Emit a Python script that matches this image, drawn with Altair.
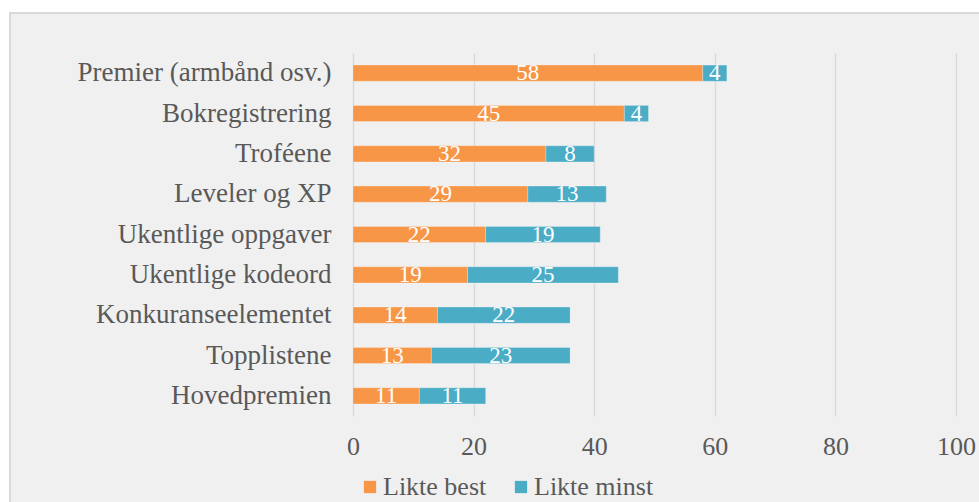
import altair as alt
import pandas as pd

# Survey: which game elements were liked best / least (percent of respondents)
categories = [
    "Premier (armbånd osv.)",
    "Bokregistrering",
    "Troféene",
    "Leveler og XP",
    "Ukentlige oppgaver",
    "Ukentlige kodeord",
    "Konkuranseelementet",
    "Topplistene",
    "Hovedpremien",
]
likte_best = [58, 45, 32, 29, 22, 19, 14, 13, 11]
likte_minst = [4, 4, 8, 13, 19, 25, 22, 23, 11]
series = ["Likte best", "Likte minst"]
colors = ["#F79646", "#4BACC6"]
x_ticks = [0, 20, 40, 60, 80, 100]

rows = []
for cat, b, m in zip(categories, likte_best, likte_minst):
    rows.append({"kategori": cat, "serie": series[0], "rekkefolge": 0, "verdi": b})
    rows.append({"kategori": cat, "serie": series[1], "rekkefolge": 1, "verdi": m})
df = pd.DataFrame(rows)

FONT = "Liberation Serif"
TEXT_COLOR = "#595959"
GRID = "#D9D9D9"
PANEL = "#F0F0F0"

base = alt.Chart(df).transform_stack(
    stack="verdi",
    groupby=["kategori"],
    as_=["start", "slutt"],
    sort=[alt.SortField("rekkefolge", order="ascending")],
).transform_calculate(midt="(datum.start + datum.slutt) / 2")

y_enc = alt.Y(
    "kategori:N",
    sort=categories,
    scale=alt.Scale(paddingInner=0.6, paddingOuter=0.3),
    axis=alt.Axis(
        title=None,
        ticks=False,
        domain=False,
        grid=False,
        labelFont=FONT,
        labelFontSize=27,
        labelColor=TEXT_COLOR,
        labelPadding=22,
        labelLimit=400,
    ),
)

bars = base.mark_bar(stroke="#ffffff", strokeWidth=0.5, strokeOpacity=0.5).encode(
    x=alt.X(
        "start:Q",
        scale=alt.Scale(domain=[0, 100], nice=False),
        axis=alt.Axis(
            title=None,
            values=x_ticks,
            grid=True,
            gridColor=GRID,
            gridWidth=1.4,
            domain=False,
            ticks=False,
            labelFont=FONT,
            labelFontSize=26,
            labelColor=TEXT_COLOR,
            labelPadding=17,
            labelFlush=False,
        ),
    ),
    x2="slutt:Q",
    y=y_enc,
    color=alt.Color(
        "serie:N",
        scale=alt.Scale(domain=series, range=colors),
        legend=alt.Legend(
            title=None,
            orient="none",
            direction="horizontal",
            legendX=4,
            legendY=421,
            symbolType="square",
            symbolSize=150,
            symbolStrokeWidth=0,
            labelFont=FONT,
            labelFontSize=26,
            labelColor=TEXT_COLOR,
            labelOffset=0,
            columnPadding=21,
        ),
    ),
    order=alt.Order("rekkefolge:Q"),
)

labels = base.mark_text(
    font=FONT, fontSize=23, color="#ffffff", baseline="middle", align="center"
).encode(
    x="midt:Q",
    y=alt.Y("kategori:N", sort=categories),
    text="verdi:Q",
)

# white page margin above and left of the grey chart panel, plus the panel border
one = alt.Data(values=[{"p": 1}])
margin_top = alt.Chart(one).mark_rect(fill="#ffffff").encode(
    x=alt.value(-360), x2=alt.value(700), y=alt.value(-60), y2=alt.value(-40)
)
margin_left = alt.Chart(one).mark_rect(fill="#ffffff").encode(
    x=alt.value(-360), x2=alt.value(-343), y=alt.value(-60), y2=alt.value(500)
)
border = alt.Chart(one).mark_rect(fillOpacity=0, stroke=GRID, strokeWidth=2).encode(
    x=alt.value(-343), x2=alt.value(700), y=alt.value(-40), y2=alt.value(500)
)

chart = (
    alt.layer(margin_top, margin_left, border, bars, labels)
    .properties(
        width=603,
        height=363,
        autosize=alt.AutoSizeParams(type="none"),
        padding={"left": 353, "top": 53, "right": 23, "bottom": 86},
        background=PANEL,
    )
    .configure_view(stroke=None)
)

chart.save("out.html", embed_options={"renderer": "svg", "actions": False})
